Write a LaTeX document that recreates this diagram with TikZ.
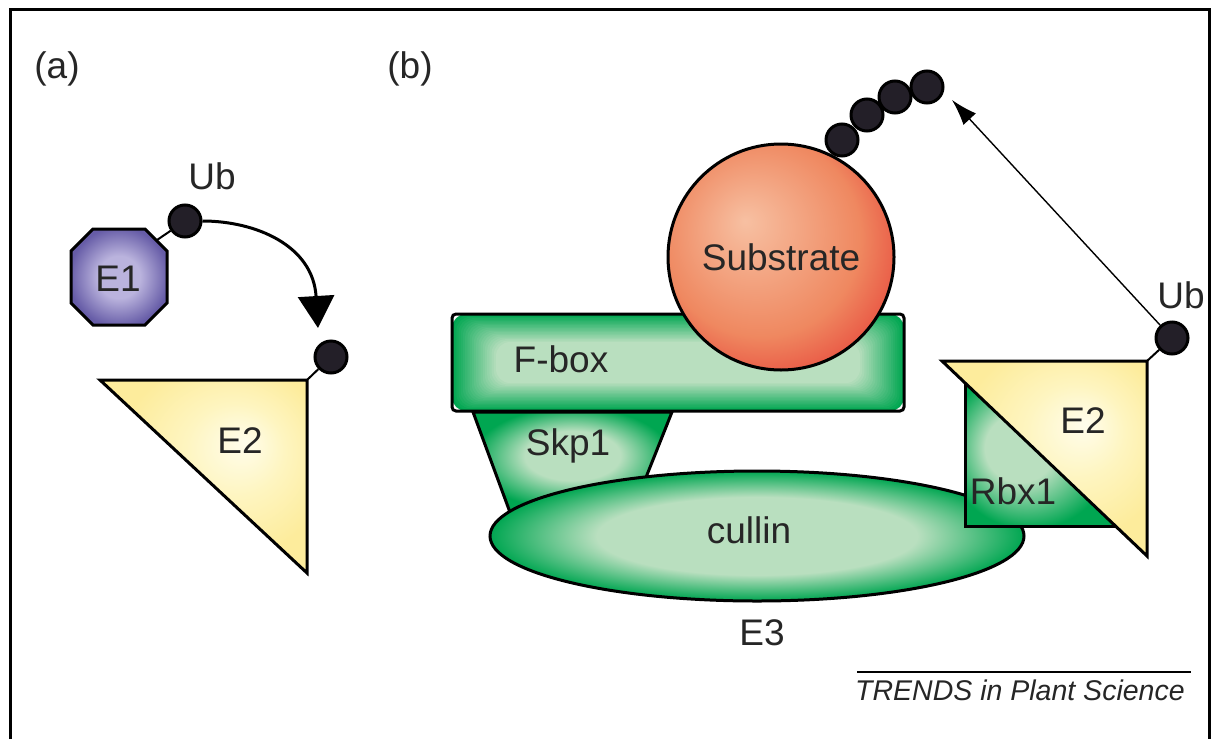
\documentclass[tikz,border=0pt]{standalone}
\usepackage{fontspec}
\setmainfont{Liberation Sans}
\usetikzlibrary{arrows.meta,shapes.geometric}

\definecolor{txt}{HTML}{262626}
\definecolor{ubfill}{HTML}{231F28}
\definecolor{purplelight}{HTML}{BAB3DD}
\definecolor{purpledark}{HTML}{665CA7}
\definecolor{yellowlight}{HTML}{FFFDEC}
\definecolor{yellowmid}{HTML}{FEF5C0}
\definecolor{yellowdark}{HTML}{FDEC9C}
\definecolor{grlight}{HTML}{B9DFBF}
\definecolor{grdark}{HTML}{00A651}
\definecolor{subhi}{HTML}{F7C0A2}
\definecolor{submid}{HTML}{EF8860}
\definecolor{sublo}{HTML}{E21E24}

% radial fills for the protein shapes
\pgfdeclareradialshading{purpleglow}{\pgfpoint{0bp}{0bp}}{%
  color(0bp)=(purplelight); color(11bp)=(purplelight); color(26bp)=(purpledark); color(50bp)=(purpledark)}
\pgfdeclareradialshading{yellowglow}{\pgfpoint{10bp}{9bp}}{%
  color(0bp)=(yellowlight); color(12bp)=(yellowmid); color(26bp)=(yellowdark); color(50bp)=(yellowdark)}
\pgfdeclareradialshading{greenglow}{\pgfpoint{0bp}{0bp}}{%
  color(0bp)=(grlight); color(15bp)=(grlight); color(25bp)=(grdark); color(50bp)=(grdark)}
\pgfdeclareradialshading{greenglowup}{\pgfpoint{0bp}{5bp}}{%
  color(0bp)=(grlight); color(12bp)=(grlight); color(25bp)=(grdark); color(50bp)=(grdark)}
\pgfdeclareradialshading{greenglowleft}{\pgfpoint{-10bp}{0bp}}{%
  color(0bp)=(grlight); color(11bp)=(grlight); color(26bp)=(grdark); color(50bp)=(grdark)}
\pgfdeclareradialshading{substrateglow}{\pgfpoint{-8bp}{8bp}}{%
  color(0bp)=(subhi); color(22bp)=(submid); color(40bp)=(sublo); color(50bp)=(sublo)}

\begin{document}
\begin{tikzpicture}[x=1pt,y=-1pt,
  lbl/.style={font=\fontsize{37}{44}\selectfont, text=txt, inner sep=0pt, anchor=base},
  outl/.style={draw=black, line width=3pt},
  ub/.style={circle, draw=black, fill=ubfill, line width=3pt, minimum size=32pt, inner sep=0pt},
  link/.style={draw=black, line width=2pt},
  transfer/.style={draw=black, line width=3pt, -{Triangle[length=32pt,width=36pt]}},
  chainarrow/.style={draw=black, line width=1.4pt, -{Latex[length=26pt,width=17pt]}}]

\useasboundingbox (0,0) rectangle (1217,739);

% frame
\draw[line width=3pt] (10,739) -- (10,9) -- (1209,9) -- (1209,739);

% panel labels
\node[lbl] (lblA) at (57,78) {(a)};
\node[lbl] (lblB) at (410,78) {(b)};

% ---------- panel (a) ----------
\path[outl, shade, shading=purpleglow]
  (93,229) -- (145,229) -- (167,251) -- (167,303) -- (145,325) -- (93,325) -- (71,303) -- (71,251) -- cycle;
\coordinate (eoneCorner) at (157,240);
\node[lbl] (eone) at (118,291) {E1};

\node[ub] (ubA) at (185,221) {};
\draw[link] (eoneCorner) -- (ubA);
\node[lbl] (ubAlbl) at (212,189) {Ub};

\coordinate (tipA) at (318,328);
\draw[transfer] (ubA.east) .. controls (255,221) and (313,245) .. (tipA);

\path[outl, shade, shading=yellowglow] (100,380) -- (307,380) -- (307,573) -- cycle;
\coordinate (etwoACorner) at (307,380);
\node[ub] (ubA2) at (331,357) {};
\draw[link] (ubA2) -- (etwoACorner);
\node[lbl] (etwoA) at (240,453) {E2};

% ---------- panel (b) ----------
% Skp1
\path[outl, shade, shading=greenglowup] (473,412) -- (672,412) -- (631,515) -- (511,515) -- cycle;
\node[lbl] (skpone) at (568,455) {Skp1};

% F-box with an inner glow built from nested boxes
\begin{scope}
  \clip[rounded corners=4pt] (452,314) rectangle (904,411);
  \foreach \i in {0,...,20} {
    \pgfmathsetmacro{\p}{100*\i/20}
    \fill[grlight!\p!grdark, rounded corners=14pt]
      ({452+2.2*\i},{314+1.4*\i}) rectangle ({904-2.2*\i},{411-1.4*\i});
  }
\end{scope}
\draw[outl, rounded corners=4pt] (452,314) rectangle (904,411);
\node[lbl] (fbox) at (561,372) {F-box};

% substrate
\node[circle, outl, shade, shading=substrateglow, minimum size=226pt, inner sep=0pt,
      font=\fontsize{37}{44}\selectfont, text=txt] (substrate) at (781,257) {Substrate};

% cullin
\node[ellipse, outl, shade, shading=greenglow, minimum width=534pt, minimum height=130pt,
      inner sep=0pt] (cullin) at (757,536) {};
\node[lbl] (cullinlbl) at (749,543) {cullin};
\node[lbl] (ethree) at (762,645) {E3};

% Rbx1 and E2
\path[outl, shade, shading=greenglowleft] (965,370) rectangle (1125,526);
\node[lbl] (rbxone) at (1013,504) {Rbx1};
\path[outl, shade, shading=yellowglow] (942,361) -- (1147,361) -- (1147,556) -- cycle;
\coordinate (etwoBCorner) at (1147,361);
\node[lbl] (etwoB) at (1083,433) {E2};

\node[ub] (ubB) at (1172,338) {};
\draw[link] (ubB) -- (etwoBCorner);
\node[lbl] (ubBlbl) at (1181,308) {Ub};

% polyubiquitin chain on the substrate
\node[ub] (chone) at (842,140) {};
\node[ub] (chtwo) at (867,115) {};
\node[ub] (chthree) at (895,97) {};
\node[ub] (chfour) at (927,87) {};

\coordinate (chainTip) at (952,100);
\draw[chainarrow] (ubB) -- (chainTip);

% journal credit
\coordinate (ruleL) at (857,672);
\coordinate (ruleR) at (1191,672);
\draw[line width=2.6pt] (ruleL) -- (ruleR);
\node[inner sep=0pt, anchor=base west, text=txt, font=\fontsize{28.5}{32}\selectfont\itshape]
  (credit) at (855,700) {TRENDS in Plant Science};

\end{tikzpicture}
\end{document}
